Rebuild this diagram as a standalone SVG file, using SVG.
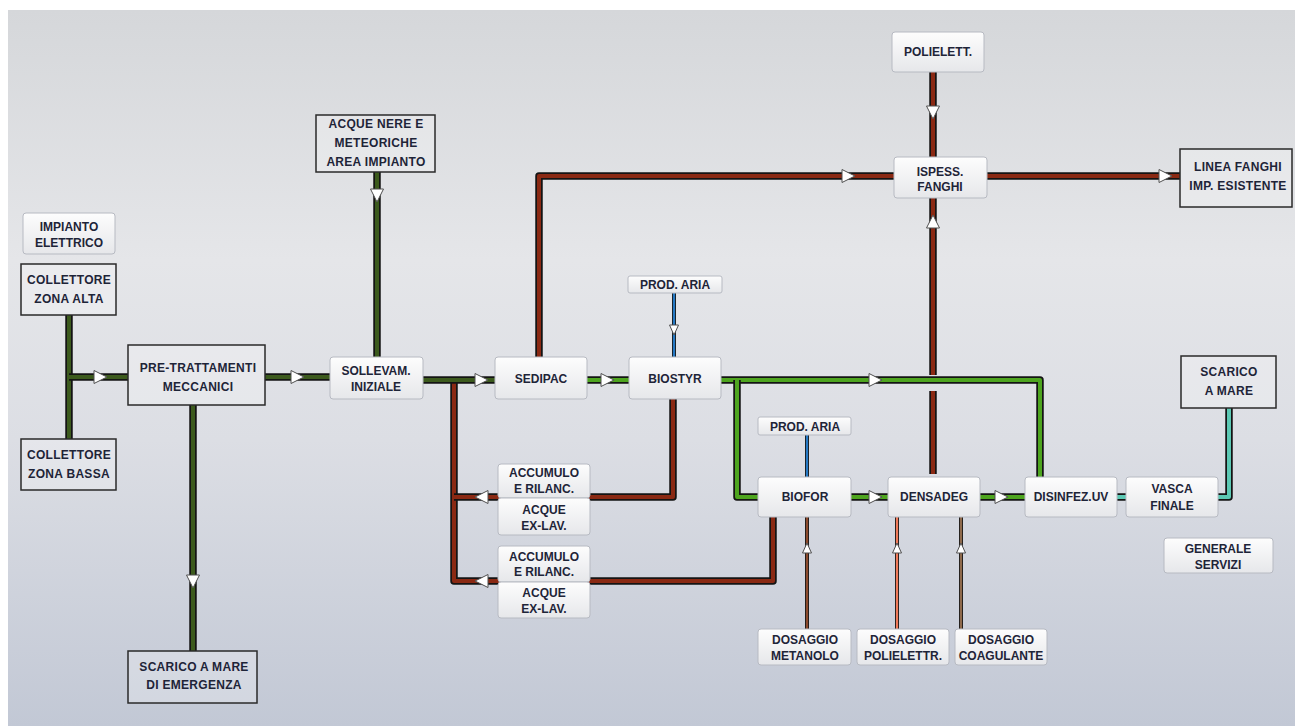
<svg xmlns="http://www.w3.org/2000/svg" xmlns:xlink="http://www.w3.org/1999/xlink" width="1295" height="726" viewBox="0 0 1295 726">
<defs>
<linearGradient id="bg" x1="0" y1="0" x2="0" y2="1">
<stop offset="0" stop-color="#d5d7da"/>
<stop offset="0.35" stop-color="#e5e6e9"/>
<stop offset="0.6" stop-color="#dcdee4"/>
<stop offset="1" stop-color="#c2c8d5"/>
</linearGradient>
<linearGradient id="lb" x1="0" y1="0" x2="0" y2="1">
<stop offset="0" stop-color="#fdfdfd"/>
<stop offset="1" stop-color="#e6e7ea"/>
</linearGradient>
<path id="arR" d="M-6,-6.5 L7,0 L-6,6.5 Z"/>
<path id="arS" d="M-5,-4.5 L5,0 L-5,4.5 Z"/>
<path id="c1" d="M69,315 V439"/>
<path id="c2" d="M69,377 H128"/>
<path id="c3" d="M265,377 H330"/>
<path id="c4" d="M193,405 V651"/>
<path id="c5" d="M377,172 V357"/>
<path id="c6" d="M423,380 H495"/>
<path id="c7" d="M587,380 H629"/>
<path id="c8" d="M721,380 H1040 V477"/>
<path id="c9" d="M737,380 V497 H758"/>
<path id="c10" d="M851,497 H888"/>
<path id="c11" d="M980,497 H1025"/>
<path id="r1" d="M454,381 V581 H773 V517"/>
<path id="r2" d="M673,399 V497 H454"/>
<path id="r3" d="M539,357 V176 H894"/>
<path id="r4" d="M987,176 H1180"/>
<path id="r5" d="M933,72 V157"/>
<path id="r6" d="M933,198 V375"/>
<path id="r7" d="M933,391 V474"/>
<path id="t1" d="M1117,497 H1126"/>
<path id="t2" d="M1218,497 H1229 V408"/>
</defs>
<style>
.o{fill:none;stroke:#141414;stroke-width:7.5;stroke-linejoin:round}
.dg{fill:none;stroke:#3c5a1d;stroke-width:4;stroke-linejoin:round}
.lg{fill:none;stroke:#4ea51f;stroke-width:4;stroke-linejoin:round}
.rd{fill:none;stroke:#8a2913;stroke-width:4;stroke-linejoin:round}
.tl{fill:none;stroke:#5cc9b4;stroke-width:4;stroke-linejoin:round}
.to{fill:none;stroke:#1a1a1a;stroke-width:4}
.bl{fill:none;stroke:#2679c4;stroke-width:2.2}
.m1{fill:none;stroke:#8b4a2d;stroke-width:2.2}
.m2{fill:none;stroke:#f07a5a;stroke-width:2.2}
.m3{fill:none;stroke:#8f6a4c;stroke-width:2.2}
.ar{fill:#ffffff;stroke:#505050;stroke-width:1}
.lbox{fill:url(#lb);stroke:#b7bac2;stroke-width:1}
.dbox{fill:#ffffff;fill-opacity:0.25;stroke:#2a2a2a;stroke-width:1.5}
text{font-family:"Liberation Sans",Arial,sans-serif;font-weight:bold;font-size:12px;fill:#1e2438;text-anchor:middle}
.ds{letter-spacing:0.3px}
</style>
<rect x="0" y="0" width="1295" height="726" fill="#ffffff"/>
<rect x="8" y="10" width="1287" height="716" fill="url(#bg)"/>

<g id="connectors">
<use xlink:href="#c1" class="o"/><use xlink:href="#c1" class="dg"/>
<use xlink:href="#c2" class="o"/><use xlink:href="#c2" class="dg"/>
<use xlink:href="#c3" class="o"/><use xlink:href="#c3" class="dg"/>
<use xlink:href="#c4" class="o"/><use xlink:href="#c4" class="dg"/>
<use xlink:href="#c5" class="o"/><use xlink:href="#c5" class="dg"/>
<use xlink:href="#r1" class="o"/><use xlink:href="#r1" class="rd"/>
<use xlink:href="#r2" class="o"/><use xlink:href="#r2" class="rd"/>
<use xlink:href="#c6" class="o"/><use xlink:href="#c6" class="dg"/>
<use xlink:href="#r3" class="o"/><use xlink:href="#r3" class="rd"/>
<use xlink:href="#r4" class="o"/><use xlink:href="#r4" class="rd"/>
<use xlink:href="#r5" class="o"/><use xlink:href="#r5" class="rd"/>
<use xlink:href="#r6" class="o"/><use xlink:href="#r6" class="rd"/>
<use xlink:href="#r7" class="o"/><use xlink:href="#r7" class="rd"/>
<use xlink:href="#c7" class="o"/><use xlink:href="#c7" class="lg"/>
<use xlink:href="#c8" class="o"/><use xlink:href="#c8" class="lg"/>
<use xlink:href="#c9" class="o"/><use xlink:href="#c9" class="lg"/>
<use xlink:href="#c10" class="o"/><use xlink:href="#c10" class="lg"/>
<use xlink:href="#c11" class="o"/><use xlink:href="#c11" class="lg"/>
<use xlink:href="#t1" class="o"/><use xlink:href="#t1" class="tl"/>
<use xlink:href="#t2" class="o"/><use xlink:href="#t2" class="tl"/>
<path d="M674,293 V357" class="to"/><path d="M674,293 V357" class="bl"/>
<path d="M807,435 V477" class="to"/><path d="M807,435 V477" class="bl"/>
<path d="M807,629 V517" class="to"/><path d="M807,629 V517" class="m1"/>
<path d="M897,629 V517" class="to"/><path d="M897,629 V517" class="m2"/>
<path d="M961,629 V517" class="to"/><path d="M961,629 V517" class="m3"/>
<use xlink:href="#arR" class="ar" transform="translate(100,377)"/>
<use xlink:href="#arR" class="ar" transform="translate(297,377)"/>
<use xlink:href="#arR" class="ar" transform="translate(193,581) rotate(90)"/>
<use xlink:href="#arR" class="ar" transform="translate(377,195) rotate(90)"/>
<use xlink:href="#arR" class="ar" transform="translate(481,380)"/>
<use xlink:href="#arR" class="ar" transform="translate(607,380)"/>
<use xlink:href="#arR" class="ar" transform="translate(875,380)"/>
<use xlink:href="#arR" class="ar" transform="translate(875,497)"/>
<use xlink:href="#arR" class="ar" transform="translate(1001,497)"/>
<use xlink:href="#arR" class="ar" transform="translate(482,497) rotate(180)"/>
<use xlink:href="#arR" class="ar" transform="translate(482,581) rotate(180)"/>
<use xlink:href="#arR" class="ar" transform="translate(848,176)"/>
<use xlink:href="#arR" class="ar" transform="translate(1165,176)"/>
<use xlink:href="#arR" class="ar" transform="translate(933,112) rotate(90)"/>
<use xlink:href="#arR" class="ar" transform="translate(933,222) rotate(-90)"/>
<use xlink:href="#arS" class="ar" transform="translate(674,330) rotate(90)"/>
<use xlink:href="#arS" class="ar" transform="translate(807,548) rotate(-90)"/>
<use xlink:href="#arS" class="ar" transform="translate(897,548) rotate(-90)"/>
<use xlink:href="#arS" class="ar" transform="translate(961,548) rotate(-90)"/>
</g>

<g id="impianto-elettrico"><rect class="lbox" x="23" y="213" width="92" height="41" rx="3"/><text x="69" y="231">IMPIANTO</text><text x="69" y="247">ELETTRICO</text></g>
<g id="collettore-alta"><rect class="dbox" x="21" y="264" width="95" height="51"/><text class="ds" x="69" y="284">COLLETTORE</text><text class="ds" x="69" y="303">ZONA ALTA</text></g>
<g id="collettore-bassa"><rect class="dbox" x="21" y="439" width="95" height="51"/><text class="ds" x="69" y="459">COLLETTORE</text><text class="ds" x="69" y="478">ZONA BASSA</text></g>
<g id="pretrattamenti"><rect class="dbox" x="128" y="345" width="137" height="60"/><text class="ds" x="198" y="372">PRE-TRATTAMENTI</text><text class="ds" x="198" y="391">MECCANICI</text></g>
<g id="scarico-emergenza"><rect class="dbox" x="128" y="651" width="129" height="52"/><text class="ds" x="194" y="671">SCARICO A MARE</text><text class="ds" x="194" y="689">DI EMERGENZA</text></g>
<g id="acque-nere"><rect class="dbox" x="316" y="115" width="119" height="57"/><text class="ds" x="376" y="128">ACQUE NERE E</text><text class="ds" x="376" y="147">METEORICHE</text><text class="ds" x="376" y="166">AREA IMPIANTO</text></g>
<g id="sollevam"><rect class="lbox" x="330" y="357" width="93" height="42" rx="3"/><text x="376" y="375">SOLLEVAM.</text><text x="376" y="391">INIZIALE</text></g>
<g id="sedipac"><rect class="lbox" x="495" y="357" width="92" height="42" rx="3"/><text x="541" y="383">SEDIPAC</text></g>
<g id="biostyr"><rect class="lbox" x="629" y="357" width="92" height="42" rx="3"/><text x="675" y="383">BIOSTYR</text></g>
<g id="prod-aria-1"><rect class="lbox" x="628" y="276" width="94" height="17" rx="2"/><text x="675" y="289">PROD. ARIA</text></g>
<g id="accumulo-1"><rect class="lbox" x="498" y="464" width="92" height="34" rx="3"/><text x="544" y="477">ACCUMULO</text><text x="544" y="493">E RILANC.</text></g>
<g id="acque-exlav-1"><rect class="lbox" x="498" y="498" width="92" height="37" rx="3"/><text x="544" y="514">ACQUE</text><text x="544" y="530">EX-LAV.</text></g>
<g id="accumulo-2"><rect class="lbox" x="498" y="546" width="92" height="36" rx="3"/><text x="544" y="561">ACCUMULO</text><text x="544" y="576">E RILANC.</text></g>
<g id="acque-exlav-2"><rect class="lbox" x="498" y="582" width="92" height="36" rx="3"/><text x="544" y="597">ACQUE</text><text x="544" y="613">EX-LAV.</text></g>
<g id="polielett"><rect class="lbox" x="892" y="32" width="92" height="40" rx="3"/><text x="938" y="56">POLIELETT.</text></g>
<g id="ispess"><rect class="lbox" x="894" y="157" width="93" height="41" rx="3"/><text x="940" y="176">ISPESS.</text><text x="940" y="191">FANGHI</text></g>
<g id="linea-fanghi"><rect class="dbox" x="1180" y="149" width="112" height="58"/><text class="ds" x="1238" y="171">LINEA FANGHI</text><text class="ds" x="1238" y="190">IMP. ESISTENTE</text></g>
<g id="prod-aria-2"><rect class="lbox" x="758" y="417" width="93" height="18" rx="2"/><text x="805" y="431">PROD. ARIA</text></g>
<g id="biofor"><rect class="lbox" x="758" y="477" width="93" height="40" rx="3"/><text x="805" y="501">BIOFOR</text></g>
<g id="densadeg"><rect class="lbox" x="888" y="477" width="92" height="40" rx="3"/><text x="934" y="501">DENSADEG</text></g>
<g id="disinfez"><rect class="lbox" x="1025" y="477" width="92" height="40" rx="3"/><text x="1071" y="501">DISINFEZ.UV</text></g>
<g id="vasca-finale"><rect class="lbox" x="1126" y="477" width="92" height="40" rx="3"/><text x="1172" y="493">VASCA</text><text x="1172" y="510">FINALE</text></g>
<g id="scarico-mare"><rect class="dbox" x="1181" y="356" width="95" height="52"/><text class="ds" x="1229" y="376">SCARICO</text><text class="ds" x="1229" y="395">A MARE</text></g>
<g id="generale-servizi"><rect class="lbox" x="1164" y="538" width="109" height="35" rx="3"/><text x="1218" y="553">GENERALE</text><text x="1218" y="569">SERVIZI</text></g>
<g id="dosaggio-metanolo"><rect class="lbox" x="758" y="629" width="93" height="36" rx="3"/><text x="805" y="644">DOSAGGIO</text><text x="805" y="660">METANOLO</text></g>
<g id="dosaggio-polielettr"><rect class="lbox" x="857" y="629" width="92" height="36" rx="3"/><text x="903" y="644">DOSAGGIO</text><text x="903" y="660">POLIELETTR.</text></g>
<g id="dosaggio-coagulante"><rect class="lbox" x="955" y="629" width="92" height="36" rx="3"/><text x="1001" y="644">DOSAGGIO</text><text x="1001" y="660">COAGULANTE</text></g>
</svg>
